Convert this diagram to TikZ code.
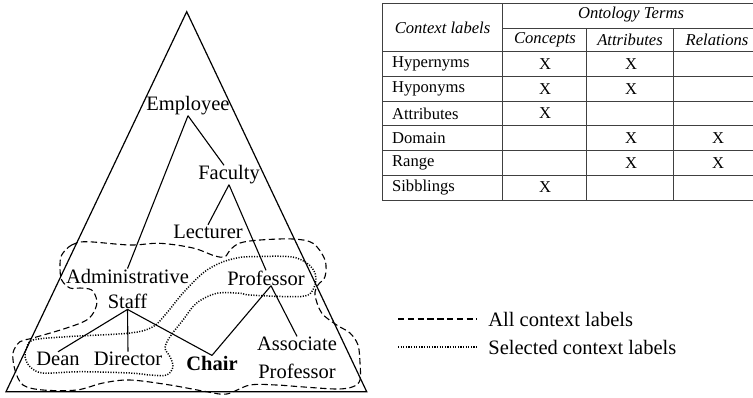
\documentclass[tikz,border=0pt]{standalone}
\usepackage{fontspec}
\setmainfont{Liberation Serif}
\usetikzlibrary{calc}
\usetikzlibrary{positioning}

\tikzset{
	term/.style={inner sep=0pt, align=center, font=\fontsize{10.25}{12.8}\selectfont},
	cell/.style={inner sep=0pt, font=\fontsize{8.3}{9}\selectfont},
	head/.style={inner sep=0pt, font=\fontsize{8.3}{10}\selectfont\itshape},
	alllabels/.style={line width=0.55pt, dash pattern=on 3.2pt off 1.7pt},
	sellabels/.style={line width=0.75pt, dash pattern=on 0.55pt off 0.75pt},
	grid/.style={line width=0.5pt, color=black!75}
}

\begin{document}
\begin{tikzpicture}[x=0.5pt,y=-0.5pt]
	\useasboundingbox (0,0) rectangle (753,397);
	% taxonomy triangle
	\draw[line width=0.6pt] (186.7,11.7) -- (6,391.7) -- (366.7,391.7) -- cycle;
	\node[term] (employee) at (188,106) {Employee};
	\node[term] (faculty) at (229,175) {Faculty};
	\node[term] (lecturer) at (208,232) {Lecturer};
	\node[term] (admin) at (127.5,289) {Administrative\\Staff};
	\node[term] (professor) at (266,278) {Professor};
	\node[term] (dean) at (58,359) {Dean};
	\node[term] (director) at (128,359) {Director};
	\node[term, font=\fontsize{10.25}{12.8}\selectfont\bfseries] (chair) at (212,363) {Chair};
	\node[term] (assoc) at (297,358) {Associate\\[1.5pt]Professor};
	\draw[line width=0.55pt] (employee.south) -- (admin.north);
	\draw[line width=0.55pt] (employee.south) -- ($(faculty.north)+(-5,0)$);
	\draw[line width=0.55pt] (faculty.south) -- (lecturer.north);
	\draw[line width=0.55pt] (faculty.south) -- (professor.north);
	\draw[line width=0.55pt] (admin.south) -- (dean.north);
	\draw[line width=0.55pt] (admin.south) -- (director.north);
	\draw[line width=0.55pt] (admin.south) -- (chair.north);
	\draw[line width=0.55pt] (chair.north) -- ($(professor.south)+(5,0)$);
	\draw[line width=0.55pt] ($(professor.south)+(5,0)$) -- (assoc.north);
	% context label regions
	\draw[alllabels] plot[smooth cycle, tension=0.55] coordinates {
		(61.7,255) (71.7,245) (86.7,241.7) (130,245) (160,243.3) (193,248)
		(215,256) (225,256.7) (230,250) (240,243) (260,240) (293,239)
		(313,243.3) (325,260) (325,276.7) (318,285) (315,295) (321.7,313)
		(336.7,325) (350,333) (358,345) (360,363) (360,380) (353,386.7)
		(336.7,389) (300,386.7) (276.7,385) (250,385) (226.7,394) (206.7,391.7)
		(170,385) (130,380) (103,383) (76.7,390) (43,390) (23,385) (15,370)
		(13,353) (20,341.7) (33,338) (66.7,328) (86.7,320) (95,310) (96.7,300)
		(91.7,290) (80,288) (70,288) (61.7,280) (60,266.7)};
	\draw[sellabels] plot[smooth cycle, tension=0.55] coordinates {
		(26.7,348) (33,340) (66.7,336.7) (130,333) (153,326.7) (166.7,313)
		(183,293) (203,273) (220,263) (236.7,258) (250,256.7) (290,256.7)
		(306.7,263) (315,273) (315,285) (308,295) (290,296.7) (250,295)
		(240,293.3) (216.7,293.3) (196.7,303) (183,320) (170,336.7) (165,348)
		(170,356.7) (173,366.7) (166.7,375) (150,375) (130,373) (80,371.7)
		(43,373) (30,366.7) (25,356.7)};
	% table
	\draw[grid] (382.3,3.3) -- (753,3.3);
	\draw[grid] (502.7,28.3) -- (753,28.3);
	\foreach \y in {51.7,76.4,101.1,125.8,150.5,175.2,200}
		\draw[grid] (382.3,\y) -- (753,\y);
	\draw[grid] (382.3,3.3) -- (382.3,200);
	\draw[grid] (502.7,3.3) -- (502.7,200);
	\draw[grid] (586.7,28.3) -- (586.7,200);
	\draw[grid] (673.3,28.3) -- (673.3,200);
	\node[head] (ctxhead) at (442.5,27.5) {Context labels};
	\node[head] (onthead) at (631,15) {Ontology Terms};
	\node[head] (conhead) at (545,40) {Concepts};
	\node[head] (atthead) at (630,40) {Attributes};
	\node[head] (relhead) at (717,40) {Relations};
	\foreach \lab [count=\i] in {Hypernyms,Hyponyms,Attributes,Domain,Range,Sibblings}
		\node[cell, anchor=west] (row\i) at (391.7,{51.7+24.7*(\i-0.5)}) {\lab};
	\foreach \i in {1,2,3,6}
		\node[cell] (con\i) at (545,{51.7+24.7*(\i-0.5)}) {X};
	\foreach \i in {1,2,4,5}
		\node[cell] (att\i) at (631,{51.7+24.7*(\i-0.5)}) {X};
	\foreach \i in {4,5}
		\node[cell] (rel\i) at (718,{51.7+24.7*(\i-0.5)}) {X};
	% legend
	\coordinate (dashA) at (398,319);
	\coordinate (dashB) at (477,319);
	\coordinate (dotA) at (398,347);
	\coordinate (dotB) at (477,347);
	\draw[alllabels] (dashA) -- (dashB);
	\draw[sellabels] (dotA) -- (dotB);
	\node[term, anchor=west] (alltxt) at (488,319) {All context labels};
	\node[term, anchor=west] (seltxt) at (488,347) {Selected context labels};
\end{tikzpicture}
\end{document}
